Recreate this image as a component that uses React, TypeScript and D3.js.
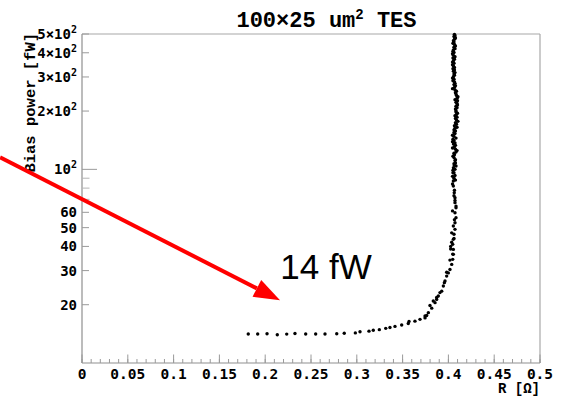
import React, { useEffect } from "react";
import * as d3 from "d3";

// ---- data ----
const resistanceOhm: number[] = [
  0.1815, 0.1918, 0.202, 0.2132, 0.2235, 0.2325, 0.2442, 0.2551, 0.2653, 0.2781,
  0.2863, 0.2984, 0.3035, 0.3133, 0.318, 0.3246, 0.3316, 0.3362, 0.3417, 0.349,
  0.3562, 0.357, 0.3635, 0.369, 0.3745, 0.3763, 0.3745, 0.3781, 0.3818, 0.3854,
  0.3872, 0.389, 0.3908, 0.3927, 0.3945, 0.3963, 0.3981, 0.3999, 0.4017, 0.4036,
  0.4047, 0.4054, 0.4054, 0.4047, 0.4054, 0.4061, 0.4072, 0.4072, 0.4083, 0.4072,
  0.4083, 0.4072, 0.4072, 0.4064, 0.4054, 0.4054,
  // vertical branch, main track
  0.4061, 0.4072, 0.4061, 0.405, 0.4055, 0.4066, 0.4077, 0.4072, 0.4061, 0.4066,
  0.4083, 0.4077, 0.4066, 0.4055, 0.4045, 0.405, 0.4061, 0.4072, 0.4077, 0.4072,
  0.4066, 0.4077, 0.4088, 0.4094, 0.4088, 0.4083, 0.4077, 0.4083, 0.4094, 0.4099,
  0.4094, 0.4088, 0.4077, 0.4072, 0.4066, 0.4061, 0.4066, 0.4061, 0.4055, 0.4061,
  0.4055, 0.405, 0.4055, 0.4061, 0.4055, 0.405, 0.4055, 0.4061, 0.4055, 0.4061,
  0.4066, 0.4061, 0.4066, 0.4061, 0.4066,
  // vertical branch, second track
  0.4045, 0.4072, 0.4061, 0.405, 0.4094, 0.4077, 0.4061, 0.4045, 0.4061, 0.4088,
  0.4077, 0.4099, 0.4094, 0.4083, 0.4104, 0.4088, 0.4077, 0.405, 0.4066, 0.4066,
  0.4045, 0.4066, 0.4045, 0.4072, 0.405, 0.4077,
  // vertical branch, third track
  0.4077, 0.405, 0.4083, 0.4077, 0.4061, 0.4045, 0.4072, 0.4083, 0.4061, 0.4094,
  0.4104, 0.4072, 0.4083, 0.4099, 0.4072, 0.4083, 0.4045, 0.4072, 0.4045, 0.4072,
  0.4066, 0.4045, 0.4072, 0.405, 0.4077, 0.4055, 0.4072,
  // lower vertical / knee, extra points
  0.4045, 0.4066, 0.4061, 0.4072, 0.4045, 0.4066, 0.4036, 0.4061, 0.4025, 0.4047,
  0.3956, 0.3981, 0.4017, 0.4025, 0.4036, 0.4054, 0.4083, 0.3872, 0.3835, 0.3799,
];
const biasPowerFW: number[] = [
  14.13, 14.13, 14.15, 14.0, 14.1, 14.2, 14.12, 14.12, 14.12, 14.15,
  14.25, 14.3, 14.5, 14.6, 14.75, 14.87, 15.1, 15.25, 15.45, 15.7,
  16.0, 16.4, 16.45, 16.8, 17.1, 17.6, 17.5, 18.2, 19.2, 20.5,
  21.3, 22.2, 23.1, 23.5, 25.0, 26.5, 28.1, 29.2, 30.4, 32.3,
  34.3, 36.4, 38.6, 41, 43.5, 46.2, 49, 53, 56.3, 59.7,
  63.4, 67.3, 71.4, 75.8, 82, 87,
  90, 93, 96, 99, 102, 105, 108, 111, 115, 119,
  123, 127, 131, 135, 139, 143, 148, 153, 158, 163,
  168, 174, 180, 186, 192, 198, 205, 212, 219, 226,
  233, 241, 249, 257, 265, 274, 283, 292, 301, 311,
  321, 331, 342, 353, 364, 376, 388, 401, 414, 427,
  441, 455, 470, 485, 498,
  92, 100, 107, 117, 125, 133, 141, 150, 160, 171,
  183, 195, 208, 222, 237, 253, 270, 287, 306, 326,
  347, 370, 395, 420, 448, 477,
  88, 96, 104, 112, 121, 129, 137, 145, 155, 165,
  177, 189, 201, 215, 229, 245, 261, 278, 296, 316,
  336, 358, 382, 407, 434, 462, 490,
  84, 78, 73, 69, 61, 55, 47, 44, 40, 36.5,
  26.0, 29.4, 34.0, 38.8, 42.0, 51.0, 64.6, 21.8, 20.9, 19.8,
];

const xDomain: [number, number] = [0, 0.5];
const yDomain: [number, number] = [10, 500];
const xMajorTicks = [0, 0.05, 0.1, 0.15, 0.2, 0.25, 0.3, 0.35, 0.4, 0.45, 0.5];
const xTickLabels = ["0", "0.05", "0.1", "0.15", "0.2", "0.25", "0.3", "0.35", "0.4", "0.45", "0.5"];
const yLabelTicks = [20, 30, 40, 50, 60, 100, 200, 300, 400, 500];
const yTickMantissa = ["20", "30", "40", "50", "60", "10", "2×10", "3×10", "4×10", "5×10"];
const yTickExponent = ["", "", "", "", "", "2", "2", "2", "2", "2"];
const yUnlabeledTicks = [70, 80, 90];

const titleText = "100×25 um";
const titleSup = "2";
const titleTail = " TES";
const yTitle = "Bias power [fW]";
const xTitle = "R [Ω]";
const annotationText = "14 fW";
// arrow annotation in data units (start lies left of the frame)
const arrowStart = { r: -0.0895, p: 115.3 };
const arrowTip = { r: 0.2162, p: 21.1 };
const annotationAt = { r: 0.2165, p: 27.0 };

const W = 562;
const H = 403;
const plotLeft = 82;
const plotRight = 540;
const plotTop = 34;
const plotBottom = 363;

export default function App() {
  useEffect(() => {
    document.body.style.margin = "0";
  }, []);

  const x = d3.scaleLinear().domain(xDomain).range([plotLeft, plotRight]);
  const y = d3.scaleLog().domain(yDomain).range([plotBottom, plotTop]);

  const xMinor = d3.range(0, 0.5 + 1e-9, 0.01);
  const axisColor = "#8f8f8f";
  const tickColor = "#9a9a9a";
  const mono = "'DejaVu Sans Mono', monospace";
  const courier = "'Liberation Mono', 'Courier New', monospace";

  // arrow geometry
  const sx = x(arrowStart.r), sy = y(arrowStart.p);
  const tx = x(arrowTip.r), ty = y(arrowTip.p);
  const ang = Math.atan2(ty - sy, tx - sx);
  const headLen = 26, headHalf = 9.5;
  const bx = tx - headLen * Math.cos(ang), by = ty - headLen * Math.sin(ang);
  const px = -Math.sin(ang), py = Math.cos(ang);
  const head = [
    [tx, ty],
    [bx + headHalf * px, by + headHalf * py],
    [bx - headHalf * px, by - headHalf * py],
  ];

  return (
    <svg width={W} height={H} style={{ display: "block", background: "#fff" }}>
      {/* frame */}
      <line x1={plotLeft} x2={plotRight} y1={plotTop} y2={plotTop} stroke="#a8a8a8" strokeWidth={1.2} />
      <line x1={plotRight} x2={plotRight} y1={plotTop} y2={plotBottom} stroke="#a8a8a8" strokeWidth={1.2} />
      <line x1={plotLeft} x2={plotLeft} y1={plotTop} y2={plotBottom} stroke={axisColor} strokeWidth={1.2} />
      <line x1={plotLeft} x2={plotRight} y1={plotBottom} y2={plotBottom} stroke={axisColor} strokeWidth={1.2} />

      {/* x ticks */}
      {xMinor.map((v, i) => (
        <line key={"xm" + i} x1={x(v)} x2={x(v)} y1={plotBottom} y2={plotBottom - 4} stroke={tickColor} strokeWidth={1} />
      ))}
      {xMajorTicks.map((v, i) => (
        <line key={"xM" + i} x1={x(v)} x2={x(v)} y1={plotBottom} y2={plotBottom - 8.5} stroke={tickColor} strokeWidth={1} />
      ))}
      {xMajorTicks.map((v, i) => (
        <text key={"xl" + i} x={x(v)} y={379} textAnchor="middle" fontFamily={mono} fontWeight="bold" fontSize={14.5} fill="#000">
          {xTickLabels[i]}
        </text>
      ))}

      {/* y ticks */}
      {yUnlabeledTicks.map((v, i) => (
        <line key={"yu" + i} x1={plotLeft} x2={plotLeft + 7.5} y1={y(v)} y2={y(v)} stroke="#b5b5b5" strokeWidth={1} />
      ))}
      {yLabelTicks.map((v, i) => (
        <line key={"yt" + i} x1={plotLeft} x2={plotLeft + (v === 100 ? 15 : 7)} y1={y(v)} y2={y(v)} stroke={tickColor} strokeWidth={1} />
      ))}
      {yLabelTicks.map((v, i) => (
        <text key={"yl" + i} x={77} y={y(v) + 5} textAnchor="end" fontFamily={mono} fontWeight="bold" fontSize={14} fill="#000">
          {yTickMantissa[i]}
          {yTickExponent[i] && (
            <tspan dy={-6} fontSize={10}>{yTickExponent[i]}</tspan>
          )}
        </text>
      ))}

      {/* data points */}
      {resistanceOhm.map((r, i) => (
        <circle key={"p" + i} cx={x(r)} cy={y(biasPowerFW[i])} r={1.7} fill="#000" />
      ))}

      {/* title */}
      <text x={326.5} y={27} textAnchor="middle" fontFamily={courier} fontWeight="bold" fontSize={22} fill="#000">
        {titleText}
        <tspan dy={-8} fontSize={14}>{titleSup}</tspan>
        <tspan dy={8}>{titleTail}</tspan>
      </text>

      {/* axis titles */}
      <text transform={`translate(35,33) rotate(-90)`} textAnchor="end" fontFamily={courier} fontWeight="bold" fontSize={15.5} fill="#000">
        {yTitle}
      </text>
      <text x={540} y={393} textAnchor="end" fontFamily={courier} fontWeight="bold" fontSize={14} fill="#000">
        {xTitle}
      </text>

      {/* annotation arrow */}
      <line x1={sx} y1={sy} x2={bx} y2={by} stroke="#ff0000" strokeWidth={4} />
      <polygon points={head.map((p) => p.join(",")).join(" ")} fill="#ff0000" />
      <text x={x(annotationAt.r)} y={y(annotationAt.p)} fontFamily="'Liberation Sans', Arial, sans-serif" fontSize={35} fill="#000">
        {annotationText}
      </text>
    </svg>
  );
}
